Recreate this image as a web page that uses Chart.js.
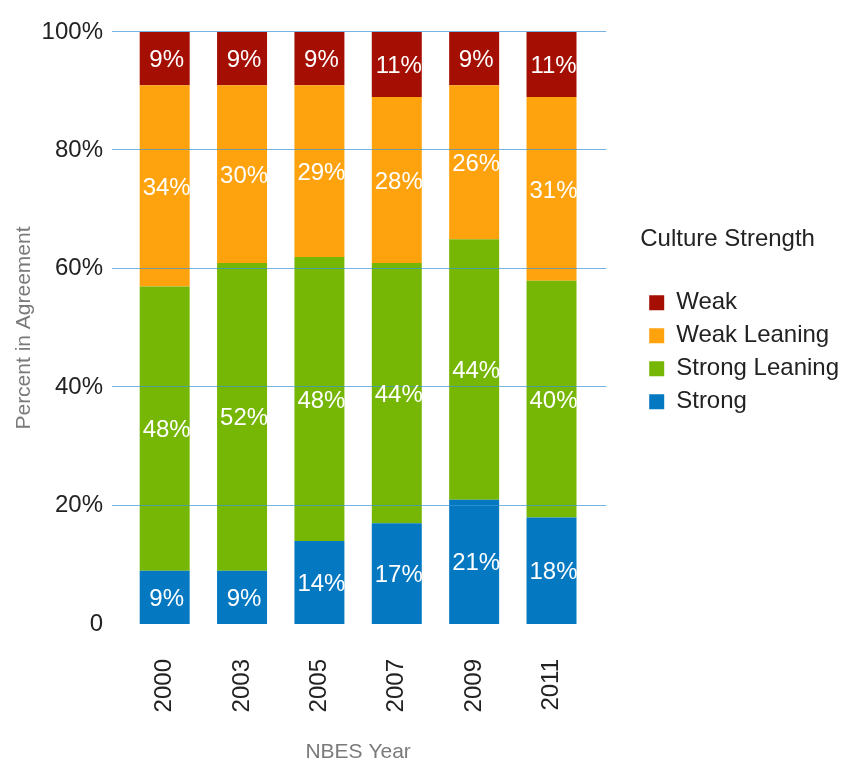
<!DOCTYPE html>
<html lang="en">
<head>
    <meta charset="UTF-8">
    <title>Culture Strength by NBES Year</title>
    <script src="https://cdn.jsdelivr.net/npm/chart.js@4.4.2/dist/chart.umd.min.js"></script>
    <style>
        body {
          margin: 0;
          padding: 0;
          background-color: #fff;}
        .chart-box {
          width: 849px;
          height: 765px;}
    </style>
</head>
<body>
    <div class="chart-box"><canvas id="cultureChart"></canvas></div>
    <script>
        // Data
        const years = ['2000', '2003', '2005', '2007', '2009', '2011'];
        const strong = [9, 9, 14, 17, 21, 18];
        const strongLeaning = [48, 52, 48, 44, 44, 40];
        const weakLeaning = [34, 30, 29, 28, 26, 31];
        const weak = [9, 9, 9, 11, 9, 11];
        const yTicks = [0, 20, 40, 60, 80, 100];

        const textFont = "'Liberation Sans', Arial, sans-serif";

        // gridlines are drawn on top of the bars, a bit wider than the plot
        const gridOnTop = {
            id: 'gridOnTop',
            afterDatasetsDraw(chart) {
                const ctx = chart.ctx;
                const area = chart.chartArea;
                const y = chart.scales.y;
                ctx.save();
                ctx.strokeStyle = 'rgba(60, 150, 215, 0.7)';
                ctx.lineWidth = 1;
                yTicks.forEach(function(v) {
                    if (v === 0) return;
                    const py = Math.round(y.getPixelForValue(v)) - 0.5;
                    ctx.beginPath();
                    ctx.moveTo(area.left - 14, py);
                    ctx.lineTo(area.right + 16, py);
                    ctx.stroke();});
                ctx.restore();}};

        // white percentage labels in the middle of each segment
        const segmentLabels = {
            id: 'segmentLabels',
            afterDatasetsDraw(chart) {
                const ctx = chart.ctx;
                ctx.save();
                ctx.fillStyle = '#fff';
                ctx.font = "24px " + textFont;
                ctx.textAlign = 'center';
                ctx.textBaseline = 'middle';
                chart.data.datasets.forEach(function(ds, i) {
                    chart.getDatasetMeta(i).data.forEach(function(bar, j) {
                        const mid = (bar.y + bar.base) / 2;
                        ctx.fillText(ds.data[j] + '%', bar.x + 2, mid + 2);});});
                ctx.restore();}};

        const ctx = document.getElementById('cultureChart').getContext('2d');
        const cultureChart = new Chart(ctx, {
            type: 'bar',
            data: {
                labels: years,
                datasets: [
                    {label: 'Strong', data: strong, backgroundColor: '#0479c2'},
                    {label: 'Strong Leaning', data: strongLeaning, backgroundColor: '#76b706'},
                    {label: 'Weak Leaning', data: weakLeaning, backgroundColor: '#fea20e'},
                    {label: 'Weak', data: weak, backgroundColor: '#a50e02'}]},
            options: {
                responsive: true,
                maintainAspectRatio: false,
                animation: false,
                barPercentage: 0.646,
                categoryPercentage: 1,
                layout: {padding: {top: 32, left: 0, right: 0, bottom: 0}},
                scales: {
                    x: {
                        stacked: true,
                        border: {display: false},
                        grid: {display: false},
                        afterFit(scale) { scale.height = 141; },
                        ticks: {
                            minRotation: 90,
                            maxRotation: 90,
                            padding: 27,
                            color: '#222',
                            font: {family: textFont, size: 24}},
                        title: {
                            display: true,
                            text: 'NBES Year',
                            color: '#7a7a7a',
                            padding: {top: 4, bottom: 0},
                            font: {family: textFont, size: 21}}},
                    y: {
                        stacked: true,
                        min: 0,
                        max: 100,
                        border: {display: false},
                        grid: {display: false},
                        afterFit(scale) { scale.width = 126; },
                        ticks: {
                            stepSize: 20,
                            padding: 15,
                            color: '#222',
                            font: {family: textFont, size: 24},
                            callback: function(v) { return v === 0 ? '0' : v + '%'; }},
                        title: {
                            display: true,
                            text: 'Percent in Agreement',
                            color: '#7a7a7a',
                            padding: {top: 12, bottom: 0},
                            font: {family: textFont, size: 21}}},
                    // empty axis that only keeps space between plot and legend
                    spacer: {
                        position: 'right',
                        display: true,
                        border: {display: false},
                        grid: {display: false},
                        ticks: {display: false},
                        afterFit(scale) { scale.width = 50; }}},
                plugins: {
                    tooltip: {enabled: false},
                    legend: {
                        position: 'right',
                        align: 'start',
                        reverse: true,
                        maxWidth: 260,
                        labels: {
                            boxWidth: 15,
                            boxHeight: 15,
                            padding: 9,
                            color: '#222',
                            font: {family: textFont, size: 24}},
                        title: {
                            display: true,
                            text: 'Culture Strength',
                            position: 'start',
                            color: '#222',
                            padding: {top: 195, bottom: 26},
                            font: {family: textFont, size: 24}}}}},
            plugins: [gridOnTop, segmentLabels]});
    </script>
</body>
</html>
